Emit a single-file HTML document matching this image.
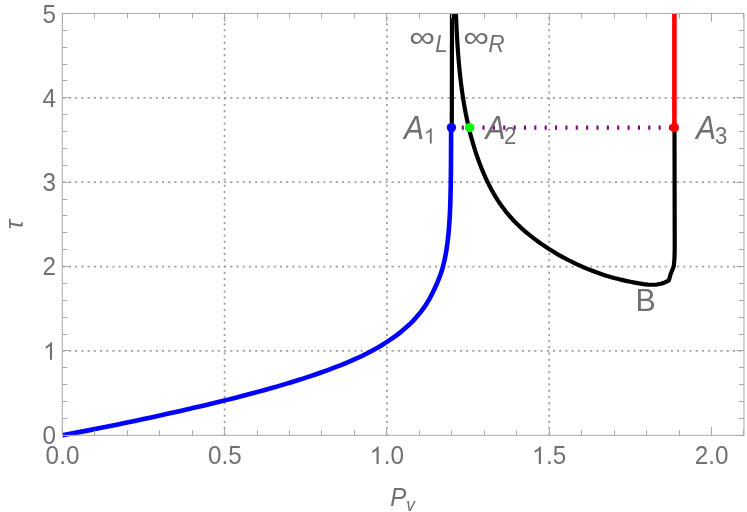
<!DOCTYPE html>
<html><head><meta charset="utf-8"><title>Chart</title><style>html,body{margin:0;padding:0;background:#fff}body{width:747px;height:512px;overflow:hidden}</style></head><body>
<svg width="747" height="512" viewBox="0 0 747 512" style="display:block;will-change:transform;font-family:'Liberation Sans',sans-serif">
<rect width="747" height="512" fill="#fff"/>
<g stroke="#9c9c9c" stroke-width="1.8" fill="none"><line x1="224.60" y1="13.45" x2="224.60" y2="435.30" stroke-dasharray="2 4.215" stroke-dashoffset="-3.47"/><line x1="386.90" y1="13.45" x2="386.90" y2="435.30" stroke-dasharray="2 4.215" stroke-dashoffset="-3.47"/><line x1="549.20" y1="13.45" x2="549.20" y2="435.30" stroke-dasharray="2 4.215" stroke-dashoffset="-3.47"/><line x1="62.30" y1="350.93" x2="743.96" y2="350.93" stroke-dasharray="2 4.205" stroke-dashoffset="-0.5"/><line x1="62.30" y1="266.56" x2="743.96" y2="266.56" stroke-dasharray="2 4.205" stroke-dashoffset="-0.5"/><line x1="62.30" y1="182.19" x2="743.96" y2="182.19" stroke-dasharray="2 4.205" stroke-dashoffset="-0.5"/><line x1="62.30" y1="97.82" x2="743.96" y2="97.82" stroke-dasharray="2 4.205" stroke-dashoffset="-0.5"/></g>
<clipPath id="c"><rect x="62.30" y="13.45" width="681.66" height="424.85"/></clipPath>
<g clip-path="url(#c)" fill="none" stroke-linejoin="round">
<path d="M62.30 435.30 L71.40 433.59 L80.51 431.87 L89.61 430.12 L98.69 428.33 L107.74 426.50 L116.76 424.67 L125.73 422.82 L134.65 420.97 L143.52 419.09 L152.31 417.20 L161.01 415.29 L169.64 413.36 L178.16 411.44 L186.59 409.51 L194.91 407.59 L203.12 405.66 L211.20 403.73 L219.15 401.80 L226.98 399.87 L234.66 397.94 L242.20 396.01 L249.59 394.08 L256.82 392.14 L263.91 390.21 L270.83 388.28 L277.59 386.34 L284.19 384.40 L290.62 382.47 L296.89 380.53 L302.99 378.59 L308.92 376.65 L314.69 374.72 L320.28 372.78 L325.72 370.84 L330.98 368.90 L336.08 366.96 L341.02 365.02 L345.80 363.08 L350.42 361.13 L354.88 359.19 L359.18 357.25 L363.33 355.30 L367.31 353.30 L371.13 351.27 L374.80 349.23 L378.32 347.20 L381.71 345.18 L384.97 343.16 L388.10 341.14 L391.09 339.13 L393.96 337.11 L396.71 335.10 L399.33 333.09 L401.85 331.08 L404.25 329.07 L406.54 327.06 L408.73 325.06 L410.82 323.06 L412.80 321.06 L414.69 319.06 L416.49 317.07 L418.20 315.08 L419.83 313.09 L421.38 311.11 L422.85 309.14 L424.25 307.17 L425.58 305.20 L426.84 303.23 L428.03 301.28 L429.17 299.32 L430.25 297.37 L431.28 295.43 L432.27 293.50 L433.20 291.56 L434.11 289.64 L435.00 287.74 L435.86 285.84 L436.71 283.95 L437.52 282.06 L438.31 280.17 L439.07 278.28 L439.80 276.39 L440.49 274.49 L441.15 272.59 L441.77 270.69 L442.35 268.78 L442.88 266.86 L443.38 264.94 L443.85 263.02 L444.29 261.10 L444.71 259.17 L445.11 257.25 L445.49 255.32 L445.84 253.39 L446.18 251.47 L446.49 249.54 L446.79 247.61 L447.07 245.68 L447.33 243.75 L447.58 241.81 L447.82 239.88 L448.03 237.95 L448.24 236.02 L448.43 234.08 L448.61 232.15 L448.78 230.22 L448.94 228.28 L449.09 226.35 L449.23 224.42 L449.36 222.48 L449.48 220.55 L449.60 218.61 L449.71 216.68 L449.81 214.75 L449.91 212.81 L450.00 210.88 L450.08 208.94 L450.16 207.01 L450.23 205.07 L450.29 203.14 L450.35 201.20 L450.41 199.27 L450.46 197.34 L450.51 195.40 L450.56 193.47 L450.60 191.53 L450.64 189.60 L450.68 187.66 L450.71 185.73 L450.75 183.79 L450.78 181.86 L450.80 179.92 L450.83 177.99 L450.85 176.05 L450.88 174.12 L450.90 172.18 L450.92 170.25 L450.93 168.32 L450.95 166.38 L450.97 164.45 L450.98 162.51 L450.99 160.58 L451.01 158.64 L451.02 156.71 L451.03 154.77 L451.04 152.84 L451.05 150.90 L451.05 148.97 L451.06 147.03 L451.07 145.10 L451.08 143.16 L451.08 141.23 L451.09 139.30 L451.09 137.36 L451.10 135.43 L451.10 133.49 L451.11 131.56 L451.11 129.62 L451.40 127.60" stroke="#0000ff" stroke-width="4.6"/>
<path d="M451.8 127.6 L452.0 11.45" stroke="#000" stroke-width="4.2"/>
<path d="M455.62 9.52 L455.92 13.52 L456.10 17.91 L456.30 22.31 L456.50 26.71 L456.72 31.11 L456.96 35.52 L457.21 39.92 L457.48 44.33 L457.78 48.74 L458.09 53.15 L458.43 57.56 L458.80 61.96 L459.19 66.36 L459.62 70.76 L460.08 75.16 L460.57 79.55 L461.10 83.94 L461.66 88.32 L462.27 92.69 L462.91 97.05 L463.60 101.41 L464.33 105.76 L465.12 110.10 L465.94 114.43 L466.82 118.75 L467.76 123.06 L468.74 127.35 L469.79 131.63 L470.89 135.90 L472.05 140.16 L473.27 144.40 L474.55 148.62 L475.90 152.83 L477.32 157.02 L478.81 161.19 L480.37 165.34 L482.00 169.47 L483.71 173.56 L485.50 177.61 L487.38 181.62 L489.35 185.59 L491.40 189.50 L493.55 193.35 L495.80 197.14 L498.15 200.86 L500.60 204.51 L503.16 208.08 L505.83 211.56 L508.62 214.95 L511.51 218.25 L514.52 221.46 L517.63 224.58 L520.84 227.61 L524.13 230.55 L527.50 233.42 L530.95 236.20 L534.46 238.90 L538.02 241.53 L541.64 244.09 L545.30 246.57 L549.00 248.99 L552.74 251.33 L556.52 253.60 L560.34 255.81 L564.19 257.93 L568.09 259.99 L572.02 261.97 L575.98 263.88 L579.98 265.71 L584.01 267.48 L588.08 269.16 L592.18 270.77 L596.30 272.30 L600.46 273.76 L604.65 275.14 L608.87 276.45 L613.11 277.68 L617.38 278.82 L621.68 279.89 L626.00 280.89 L630.34 281.80 L634.71 282.63 L639.10 283.39 L643.52 284.05 L647.92 284.54 L652.30 284.74 L656.62 284.53 L660.85 283.80 L664.95 282.43 L668.91 280.30 L670.75 273.70 L673.80 266.25 L674.45 258.80 L674.70 250.00 L674.70 230.00 L674.50 127.60" stroke="#000" stroke-width="4.2"/>
<path d="M674.4 127.6 L674.4 11.45" stroke="#ff0000" stroke-width="4.6"/>
<path d="M451.4 127.6 L674.5 127.6" stroke="#800080" stroke-width="4.4" stroke-dasharray="2.1 8.26"/>
</g>
<circle cx="451.4" cy="127.6" r="4.7" fill="#0000ff"/>
<circle cx="469.6" cy="127.6" r="4.7" fill="#00ff00"/>
<circle cx="674.3" cy="127.7" r="4.75" fill="#ff0000"/>
<g stroke="#a8a8a8" stroke-width="1" fill="none"><rect x="62.30" y="13.45" width="681.66" height="421.85"/><line x1="62.50" y1="435.30" x2="62.50" y2="426.90"/><line x1="62.50" y1="13.45" x2="62.50" y2="21.85"/><line x1="94.50" y1="435.30" x2="94.50" y2="430.30"/><line x1="94.50" y1="13.45" x2="94.50" y2="18.45"/><line x1="127.50" y1="435.30" x2="127.50" y2="430.30"/><line x1="127.50" y1="13.45" x2="127.50" y2="18.45"/><line x1="159.50" y1="435.30" x2="159.50" y2="430.30"/><line x1="159.50" y1="13.45" x2="159.50" y2="18.45"/><line x1="192.50" y1="435.30" x2="192.50" y2="430.30"/><line x1="192.50" y1="13.45" x2="192.50" y2="18.45"/><line x1="224.50" y1="435.30" x2="224.50" y2="426.90"/><line x1="224.50" y1="13.45" x2="224.50" y2="21.85"/><line x1="257.50" y1="435.30" x2="257.50" y2="430.30"/><line x1="257.50" y1="13.45" x2="257.50" y2="18.45"/><line x1="289.50" y1="435.30" x2="289.50" y2="430.30"/><line x1="289.50" y1="13.45" x2="289.50" y2="18.45"/><line x1="321.50" y1="435.30" x2="321.50" y2="430.30"/><line x1="321.50" y1="13.45" x2="321.50" y2="18.45"/><line x1="354.50" y1="435.30" x2="354.50" y2="430.30"/><line x1="354.50" y1="13.45" x2="354.50" y2="18.45"/><line x1="386.50" y1="435.30" x2="386.50" y2="426.90"/><line x1="386.50" y1="13.45" x2="386.50" y2="21.85"/><line x1="419.50" y1="435.30" x2="419.50" y2="430.30"/><line x1="419.50" y1="13.45" x2="419.50" y2="18.45"/><line x1="451.50" y1="435.30" x2="451.50" y2="430.30"/><line x1="451.50" y1="13.45" x2="451.50" y2="18.45"/><line x1="484.50" y1="435.30" x2="484.50" y2="430.30"/><line x1="484.50" y1="13.45" x2="484.50" y2="18.45"/><line x1="516.50" y1="435.30" x2="516.50" y2="430.30"/><line x1="516.50" y1="13.45" x2="516.50" y2="18.45"/><line x1="549.50" y1="435.30" x2="549.50" y2="426.90"/><line x1="549.50" y1="13.45" x2="549.50" y2="21.85"/><line x1="581.50" y1="435.30" x2="581.50" y2="430.30"/><line x1="581.50" y1="13.45" x2="581.50" y2="18.45"/><line x1="614.50" y1="435.30" x2="614.50" y2="430.30"/><line x1="614.50" y1="13.45" x2="614.50" y2="18.45"/><line x1="646.50" y1="435.30" x2="646.50" y2="430.30"/><line x1="646.50" y1="13.45" x2="646.50" y2="18.45"/><line x1="679.50" y1="435.30" x2="679.50" y2="430.30"/><line x1="679.50" y1="13.45" x2="679.50" y2="18.45"/><line x1="711.50" y1="435.30" x2="711.50" y2="426.90"/><line x1="711.50" y1="13.45" x2="711.50" y2="21.85"/><line x1="743.50" y1="435.30" x2="743.50" y2="430.30"/><line x1="743.50" y1="13.45" x2="743.50" y2="18.45"/><line x1="62.30" y1="435.50" x2="70.70" y2="435.50"/><line x1="743.96" y1="435.50" x2="735.56" y2="435.50"/><line x1="62.30" y1="418.50" x2="67.30" y2="418.50"/><line x1="743.96" y1="418.50" x2="738.96" y2="418.50"/><line x1="62.30" y1="401.50" x2="67.30" y2="401.50"/><line x1="743.96" y1="401.50" x2="738.96" y2="401.50"/><line x1="62.30" y1="384.50" x2="67.30" y2="384.50"/><line x1="743.96" y1="384.50" x2="738.96" y2="384.50"/><line x1="62.30" y1="367.50" x2="67.30" y2="367.50"/><line x1="743.96" y1="367.50" x2="738.96" y2="367.50"/><line x1="62.30" y1="350.50" x2="70.70" y2="350.50"/><line x1="743.96" y1="350.50" x2="735.56" y2="350.50"/><line x1="62.30" y1="334.50" x2="67.30" y2="334.50"/><line x1="743.96" y1="334.50" x2="738.96" y2="334.50"/><line x1="62.30" y1="317.50" x2="67.30" y2="317.50"/><line x1="743.96" y1="317.50" x2="738.96" y2="317.50"/><line x1="62.30" y1="300.50" x2="67.30" y2="300.50"/><line x1="743.96" y1="300.50" x2="738.96" y2="300.50"/><line x1="62.30" y1="283.50" x2="67.30" y2="283.50"/><line x1="743.96" y1="283.50" x2="738.96" y2="283.50"/><line x1="62.30" y1="266.50" x2="70.70" y2="266.50"/><line x1="743.96" y1="266.50" x2="735.56" y2="266.50"/><line x1="62.30" y1="249.50" x2="67.30" y2="249.50"/><line x1="743.96" y1="249.50" x2="738.96" y2="249.50"/><line x1="62.30" y1="232.50" x2="67.30" y2="232.50"/><line x1="743.96" y1="232.50" x2="738.96" y2="232.50"/><line x1="62.30" y1="215.50" x2="67.30" y2="215.50"/><line x1="743.96" y1="215.50" x2="738.96" y2="215.50"/><line x1="62.30" y1="199.50" x2="67.30" y2="199.50"/><line x1="743.96" y1="199.50" x2="738.96" y2="199.50"/><line x1="62.30" y1="182.50" x2="70.70" y2="182.50"/><line x1="743.96" y1="182.50" x2="735.56" y2="182.50"/><line x1="62.30" y1="165.50" x2="67.30" y2="165.50"/><line x1="743.96" y1="165.50" x2="738.96" y2="165.50"/><line x1="62.30" y1="148.50" x2="67.30" y2="148.50"/><line x1="743.96" y1="148.50" x2="738.96" y2="148.50"/><line x1="62.30" y1="131.50" x2="67.30" y2="131.50"/><line x1="743.96" y1="131.50" x2="738.96" y2="131.50"/><line x1="62.30" y1="114.50" x2="67.30" y2="114.50"/><line x1="743.96" y1="114.50" x2="738.96" y2="114.50"/><line x1="62.30" y1="97.50" x2="70.70" y2="97.50"/><line x1="743.96" y1="97.50" x2="735.56" y2="97.50"/><line x1="62.30" y1="80.50" x2="67.30" y2="80.50"/><line x1="743.96" y1="80.50" x2="738.96" y2="80.50"/><line x1="62.30" y1="64.50" x2="67.30" y2="64.50"/><line x1="743.96" y1="64.50" x2="738.96" y2="64.50"/><line x1="62.30" y1="47.50" x2="67.30" y2="47.50"/><line x1="743.96" y1="47.50" x2="738.96" y2="47.50"/><line x1="62.30" y1="30.50" x2="67.30" y2="30.50"/><line x1="743.96" y1="30.50" x2="738.96" y2="30.50"/><line x1="62.30" y1="13.50" x2="70.70" y2="13.50"/><line x1="743.96" y1="13.50" x2="735.56" y2="13.50"/></g>
<g fill="#707070">
<text transform="translate(62.50,463.90) scale(0.972,1)" font-size="25.00" text-anchor="middle">0.0</text>
<text transform="translate(224.80,463.90) scale(0.972,1)" font-size="25.00" text-anchor="middle">0.5</text>
<path transform="translate(369.61,463.90) scale(0.01187,-0.01187)" d="M763 0H583V1147Q518 1085 412.5 1023T223 930V1104Q374 1175 487 1276T647 1472H763Z"/>
<text transform="translate(383.72,463.90) scale(0.972,1)" font-size="25.00" text-anchor="start">.0</text>
<path transform="translate(531.91,463.90) scale(0.01187,-0.01187)" d="M763 0H583V1147Q518 1085 412.5 1023T223 930V1104Q374 1175 487 1276T647 1472H763Z"/>
<text transform="translate(546.02,463.90) scale(0.972,1)" font-size="25.00" text-anchor="start">.5</text>
<text transform="translate(711.70,463.90) scale(0.972,1)" font-size="25.00" text-anchor="middle">2.0</text>
<text transform="translate(55.90,444.05) scale(0.972,1)" font-size="25.00" text-anchor="end">0</text>
<path transform="translate(42.99,359.68) scale(0.01187,-0.01187)" d="M763 0H583V1147Q518 1085 412.5 1023T223 930V1104Q374 1175 487 1276T647 1472H763Z"/>
<text transform="translate(55.90,275.31) scale(0.972,1)" font-size="25.00" text-anchor="end">2</text>
<text transform="translate(55.90,190.94) scale(0.972,1)" font-size="25.00" text-anchor="end">3</text>
<text transform="translate(55.90,106.57) scale(0.972,1)" font-size="25.00" text-anchor="end">4</text>
<text transform="translate(55.90,22.60) scale(0.972,1)" font-size="25.00" text-anchor="end">5</text>
<text transform="translate(390.16,506.30) scale(0.960,1)" font-size="25.00" text-anchor="start" font-style="italic">P</text>
<text transform="translate(406.25,510.90) scale(0.960,1)" font-size="18.00" text-anchor="start" font-style="italic">v</text>
<text transform="translate(22.6,229.3) rotate(-90)" font-size="25" font-style="italic">τ</text>
<text transform="translate(403.98,138.50) scale(0.895,1)" font-size="33.50" text-anchor="start" font-style="italic">A</text>
<text transform="translate(485.48,138.50) scale(0.895,1)" font-size="33.50" text-anchor="start" font-style="italic">A</text>
<text transform="translate(695.98,138.50) scale(0.895,1)" font-size="33.50" text-anchor="start" font-style="italic">A</text>
<path transform="translate(423.69,143.60) scale(0.01050,-0.01050)" d="M763 0H583V1147Q518 1085 412.5 1023T223 930V1104Q374 1175 487 1276T647 1472H763Z"/>
<text transform="translate(503.99,143.70) scale(0.950,1)" font-size="23.30" text-anchor="start">2</text>
<text transform="translate(715.06,143.70) scale(0.950,1)" font-size="23.30" text-anchor="start">3</text>
<text transform="translate(409.26,47.00) scale(1.210,1)" font-size="30.00" text-anchor="start">∞</text>
<text transform="translate(435.21,51.50) scale(0.950,1)" font-size="23.50" text-anchor="start" font-style="italic">L</text>
<text transform="translate(463.26,47.00) scale(1.210,1)" font-size="30.00" text-anchor="start">∞</text>
<text transform="translate(488.61,51.50) scale(0.950,1)" font-size="23.50" text-anchor="start" font-style="italic">R</text>
<text transform="translate(635.41,310.70) scale(0.979,1)" font-size="31.00" text-anchor="start">B</text>
</g>
</svg>
</body></html>
